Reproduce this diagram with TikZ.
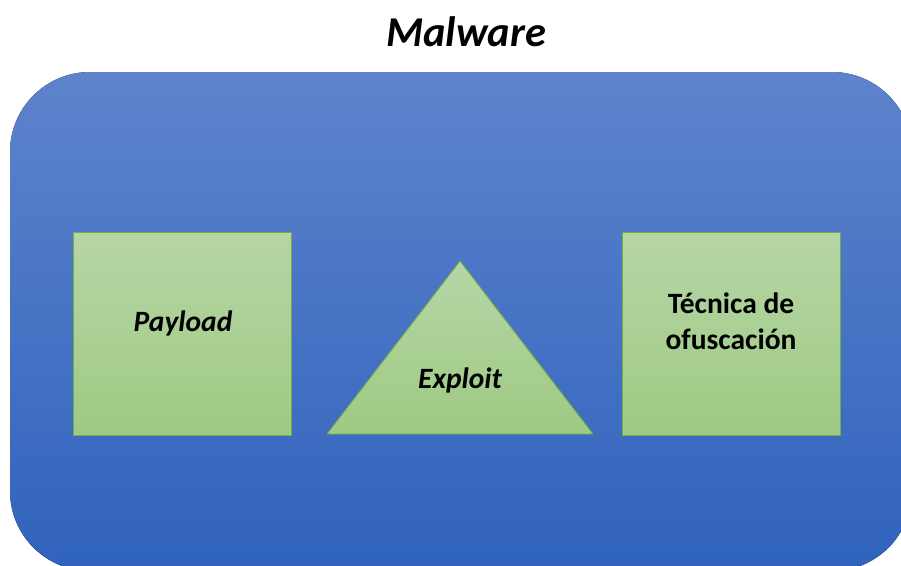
\documentclass[tikz,border=0pt]{standalone}
\usepackage{fontspec}
\setmainfont{Carlito}
\definecolor{bluetop}{RGB}{94,131,204}
\definecolor{bluebot}{RGB}{48,99,189}
\definecolor{greentop}{RGB}{182,214,165}
\definecolor{greenbot}{RGB}{158,202,132}
\definecolor{greenline}{RGB}{112,173,71}
\tikzset{
  greenshape/.style={draw=greenline, line width=0.9pt, top color=greentop, bottom color=greenbot},
  boxshape/.style={greenshape, rectangle, inner sep=0pt, minimum width=218pt, minimum height=203pt},
  lbl/.style={font=\fontsize{29.5}{36}\selectfont\bfseries, anchor=base, inner sep=0pt, align=center},
  lbli/.style={lbl, font=\fontsize{29.5}{36}\selectfont\bfseries\itshape}
}
\begin{document}
\begin{tikzpicture}[x=1pt,y=-1pt]
\useasboundingbox (0,0) rectangle (901,565);
\begin{scope}
\clip (0,0) rectangle (901,565);
\fill[top color=bluetop, bottom color=bluebot, rounded corners=80pt] (10,72) rectangle (912,571);
\end{scope}
\node[font=\fontsize{42.5}{48}\selectfont\bfseries\itshape, anchor=base, inner sep=0pt] (title) at (466,46) {Malware};
\node[boxshape] (payload) at (182,333.5) {};
\node[boxshape] (tecnica) at (731,333.5) {};
\path[greenshape] (460,261) -- (593,434) -- (327,434) -- cycle;
\node[lbli] (payloadlbl) at (183,331) {Payload};
\node[lbli] (exploitlbl) at (460,388) {Exploit};
\node[lbl] (tec1) at (731,313) {Técnica de};
\node[lbl] (tec2) at (731,349) {ofuscación};
\end{tikzpicture}
\end{document}
